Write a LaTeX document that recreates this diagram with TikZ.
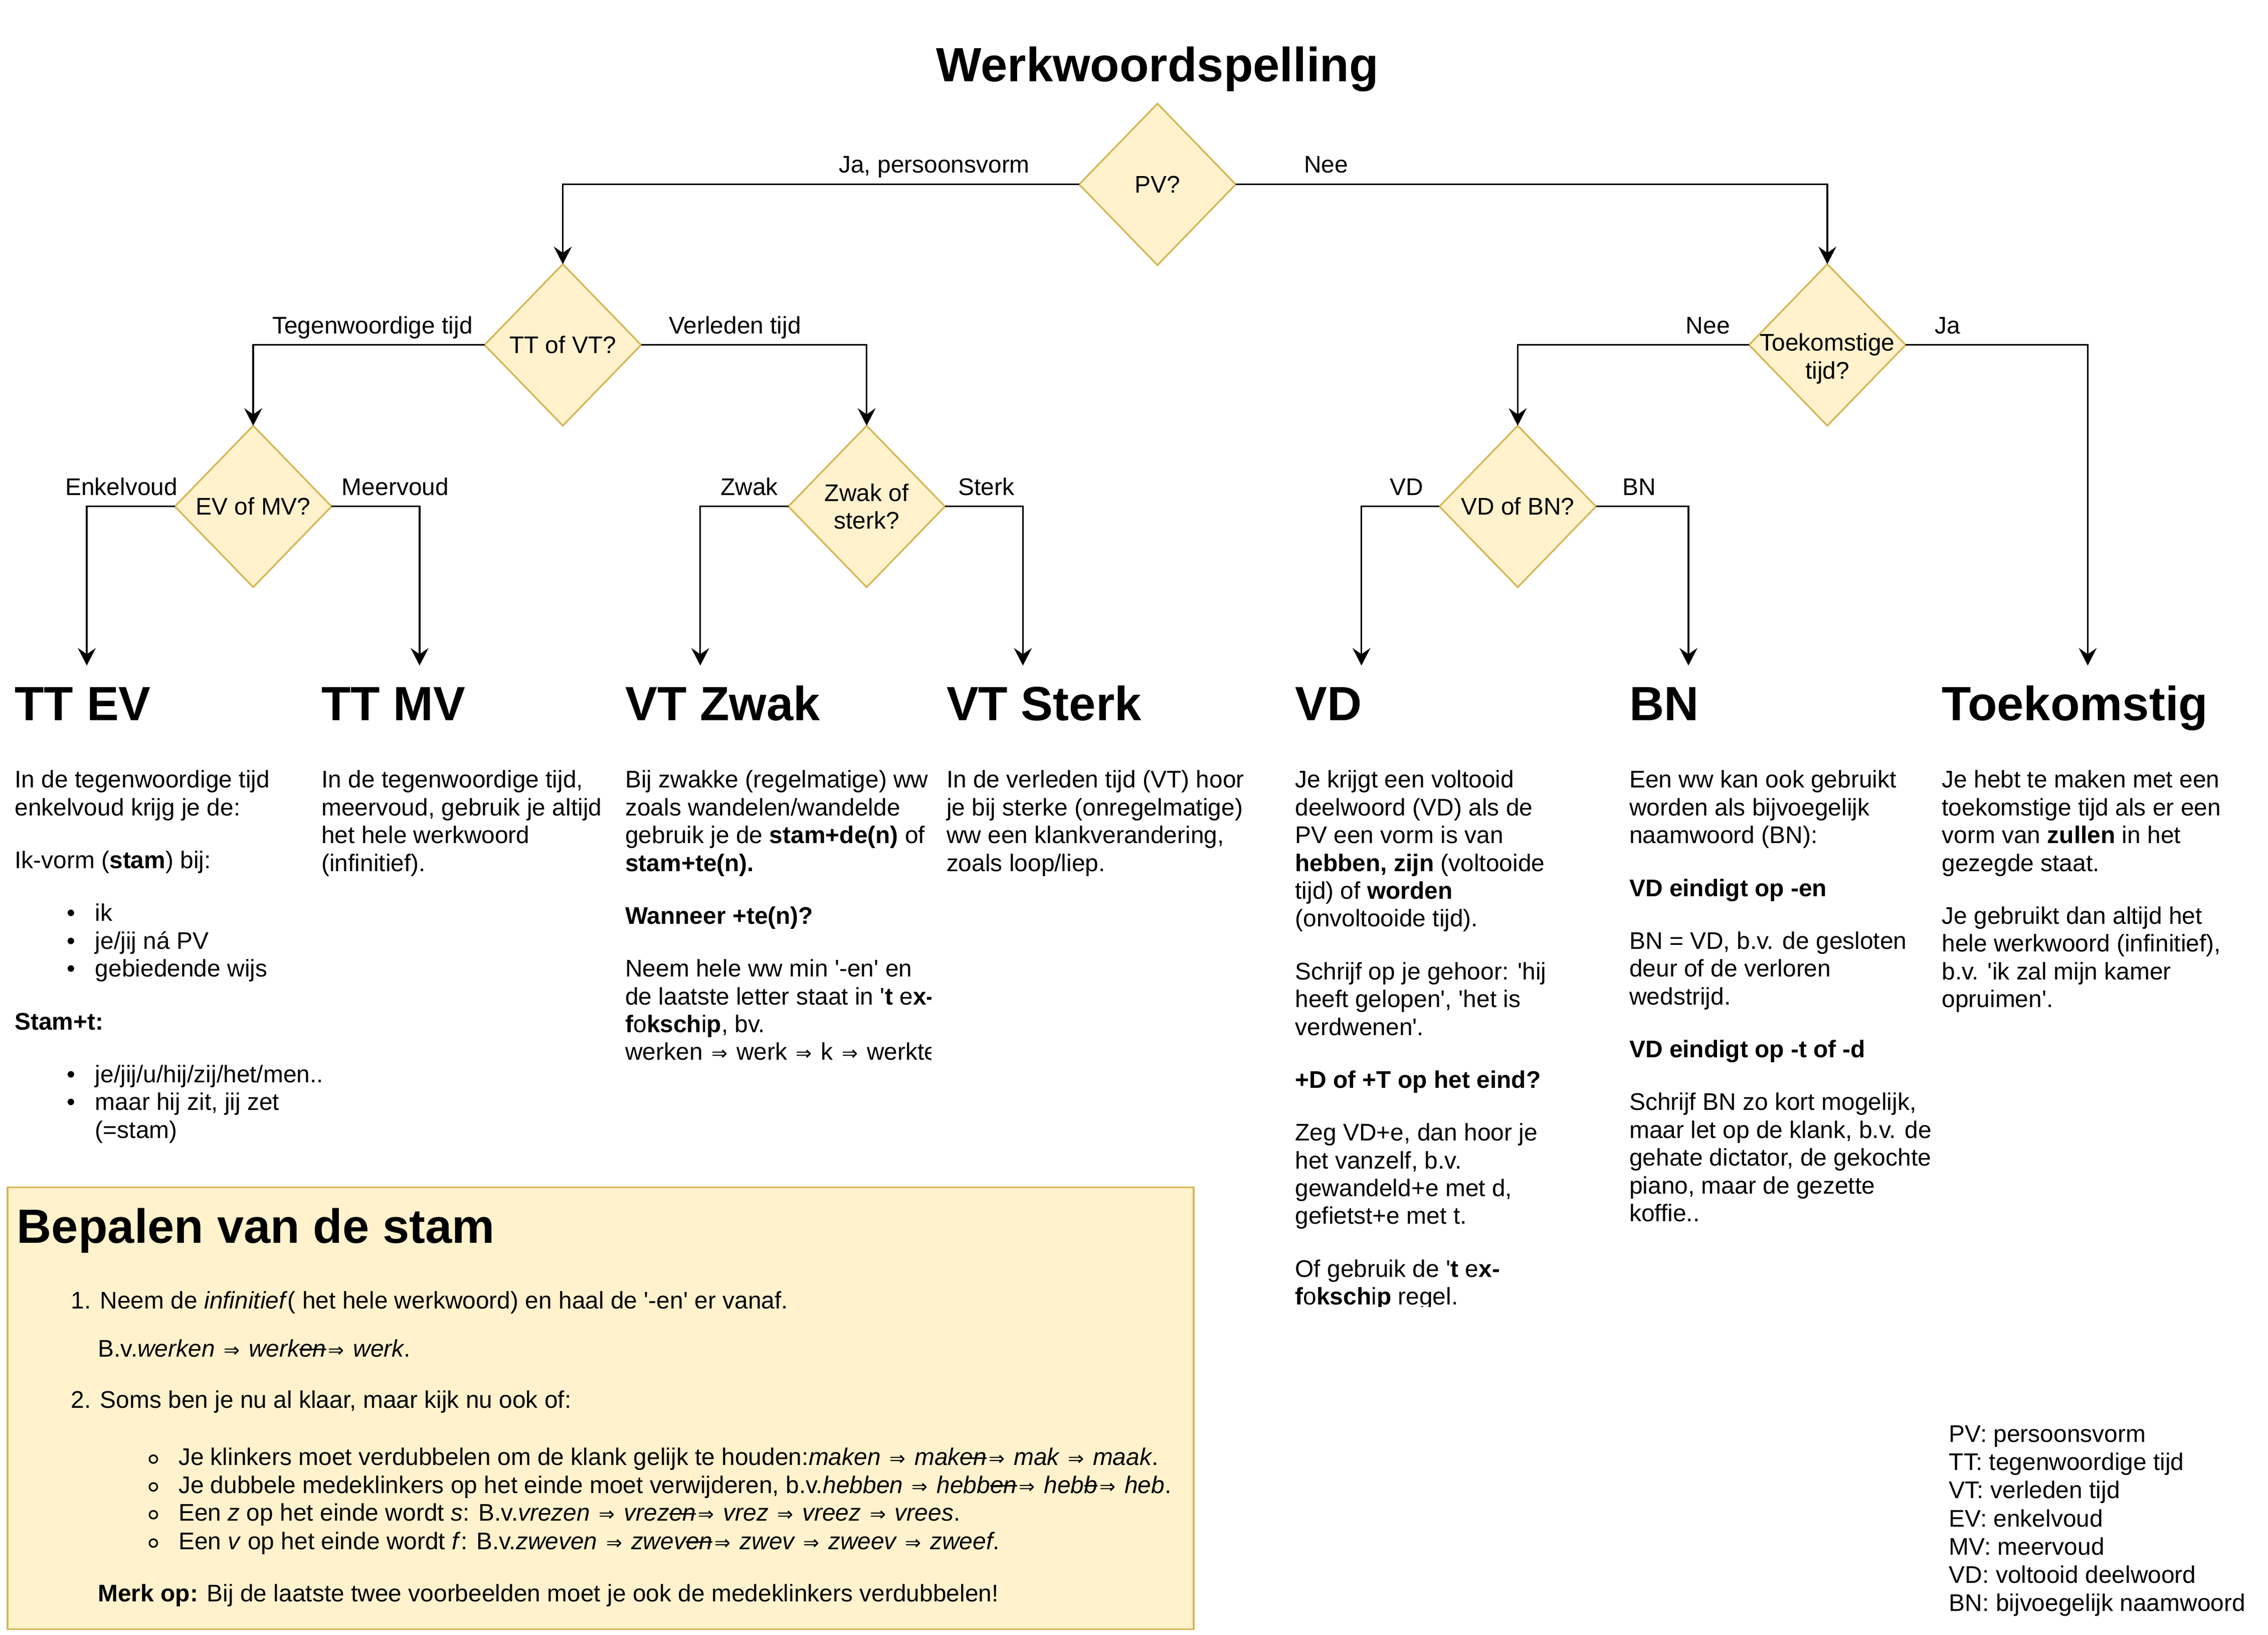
\documentclass[tikz,border=0pt]{standalone}
\usepackage{fontspec}
\setmainfont{Liberation Sans}
\newfontfamily\arrfont{DejaVu Sans}[Scale=0.8]
\usetikzlibrary{shapes.geometric,arrows.meta,calc}
\definecolor{decfill}{HTML}{FFF2CC}
\definecolor{decline}{HTML}{D6B656}
\newcommand{\imp}{\hspace{1.5pt}{\arrfont ⇒}\hspace{1.5pt}}
\newcommand{\sq}{\textquotesingle}
\newsavebox\strkbox
\newcommand{\strk}[1]{\sbox\strkbox{#1}\rlap{\usebox\strkbox}\rule[0.27em]{\wd\strkbox}{0.065em}}
\newcommand{\bul}[1]{\hspace*{36pt}\makebox[19.6pt][l]{\textbullet}#1}
\newcommand{\ring}[1]{\hspace*{74.2pt}#1}

\begin{document}
\begin{tikzpicture}[x=1pt, y=-1pt,
  txt/.style={font=\fontsize{16.6}{19.2}\selectfont, inner sep=0pt, align=left, anchor=base west},
  kop/.style={font=\fontsize{33.2}{38}\selectfont\bfseries, inner sep=0pt, anchor=base west},
  dec/.style={diamond, draw=decline, fill=decfill, line width=1.15pt, minimum width=108.2pt, minimum height=111.6pt, inner sep=0pt, outer sep=0pt},
  dlbl/.style={font=\fontsize{16.6}{19.2}\selectfont, inner sep=0pt, align=center},
  elbl/.style={font=\fontsize{16.6}{19.2}\selectfont, inner sep=0pt},
  arr/.style={-{Stealth[length=12.1pt, width=12.4pt, inset=4.3pt]}, line width=1.15pt}]
\useasboundingbox (0,0) rectangle (1567.6,1129.6);

\node[kop, anchor=base] (titel) at (800,56.4) {Werkwoordspelling};

\node[dec, label={[dlbl]center:PV?}] (pv) at (800,127.4) {};
\node[dec, label={[dlbl]center:TT of VT?}] (ttvt) at (389,238.3) {};
\node[dec, label={[dlbl, yshift=-9.5pt]center:Toekomstige\\tijd?}] (toek) at (1263,238.3) {};
\node[dec, label={[dlbl]center:EV of MV?}] (evmv) at (175,349.9) {};
\node[dec, label={[dlbl]center:Zwak of\\sterk?}] (zwst) at (599,349.9) {};
\node[dec, label={[dlbl]center:VD of BN?}] (vdbn) at (1049,349.9) {};

\coordinate (ev) at (60,459.8);
\coordinate (mv) at (290,459.8);
\coordinate (zw) at (484,459.8);
\coordinate (st) at (707,459.8);
\coordinate (vd) at (941,459.8);
\coordinate (bn) at (1167,459.8);
\coordinate (tk) at (1443,459.8);

\draw[arr] (pv.west) -| (ttvt.north);
\draw[arr] (pv.east) -| (toek.north);
\draw[arr] (ttvt.west) -| (evmv.north);
\draw[arr] (ttvt.east) -| (zwst.north);
\draw[arr] (toek.west) -| (vdbn.north);
\draw[arr] (toek.east) -| (tk);
\draw[arr] (evmv.west) -| (ev);
\draw[arr] (evmv.east) -| (mv);
\draw[arr] (zwst.west) -| (zw);
\draw[arr] (zwst.east) -| (st);
\draw[arr] (vdbn.west) -| (vd);
\draw[arr] (vdbn.east) -| (bn);

\node[elbl, anchor=base east] (lja) at ([shift={(-34,-7.9)}]pv.west) {Ja, persoonsvorm};
\node[elbl, anchor=base west] (lnee) at ([shift={(47,-7.9)}]pv.east) {Nee};
\node[elbl, anchor=base east] (ltt) at ([shift={(-8,-7.8)}]ttvt.west) {Tegenwoordige tijd};
\node[elbl, anchor=base west] (lvt) at ([shift={(19,-7.8)}]ttvt.east) {Verleden tijd};
\node[elbl, anchor=base east] (ltnee) at ([shift={(-13,-7.8)}]toek.west) {Nee};
\node[elbl, anchor=base west] (ltja) at ([shift={(20,-7.8)}]toek.east) {Ja};
\node[elbl, anchor=base east] (lev) at ([shift={(2,-7.8)}]evmv.west) {Enkelvoud};
\node[elbl, anchor=base west] (lmv) at ([shift={(7,-7.8)}]evmv.east) {Meervoud};
\node[elbl, anchor=base east] (lzw) at ([shift={(-7,-7.8)}]zwst.west) {Zwak};
\node[elbl, anchor=base west] (lst) at ([shift={(9,-7.8)}]zwst.east) {Sterk};
\node[elbl, anchor=base east] (lvd) at ([shift={(-11,-7.8)}]vdbn.west) {VD};
\node[elbl, anchor=base west] (lbn) at ([shift={(18,-7.8)}]vdbn.east) {BN};

\node[kop] (ttevkop) at (10,497.9) {TT EV};
\node[kop] (ttmvkop) at (222,497.9) {TT MV};
\node[kop] (zwakkop) at (432,497.9) {VT Zwak};
\node[kop] (sterkkop) at (654,497.9) {VT Sterk};
\node[kop] (vdkop) at (895,497.9) {VD};
\node[kop] (bnkop) at (1126,497.9) {BN};
\node[kop] (toekkop) at (1342,497.9) {Toekomstig};

% multi-line nodes: base = last line
\node[txt] (ttevtxt) at (10,786.3) {In de tegenwoordige tijd\\
enkelvoud krijg je de:\\[17.3pt]
Ik-vorm (\textbf{stam}) bij:\\[17.3pt]
\bul{ik}\\
\bul{je/jij ná PV}\\
\bul{gebiedende wijs}\\[17.3pt]
\textbf{Stam+t:}\\[17.3pt]
\bul{je/jij/u/hij/zij/het/men..}\\
\bul{maar hij zit, jij zet}\\
\hspace*{55.6pt}(=stam)};

\node[txt] (ttmvtxt) at (222,601.9) {In de tegenwoordige tijd,\\
meervoud, gebruik je altijd\\
het hele werkwoord\\
(infinitief).};

\begin{scope}
\clip (428,520) rectangle (643.5,760);
\node[txt] (zwaktxt) at (432,732.5) {Bij zwakke (regelmatige) ww\\
zoals wandelen/wandelde\\
gebruik je de \textbf{stam+de(n)} of\\
\textbf{stam+te(n).}\\[17.3pt]
\textbf{Wanneer +te(n)?}\\[17.3pt]
Neem hele ww min \sq-en\sq{} en\\
de laatste letter staat in \sq\textbf{t} e\textbf{x-}\\
\textbf{f}o\textbf{ksch}i\textbf{p}, bv.\\
werken \imp{} werk \imp{} k \imp{} werkte};
\end{scope}

\node[txt] (sterktxt) at (654,601.9) {In de verleden tijd (VT) hoor\\
je bij sterke (onregelmatige)\\
ww een klankverandering,\\
zoals loop/liep.};

\begin{scope}
\clip (890,520) rectangle (1120,902.8);
\node[txt] (vdtxt) at (895,901.5) {Je krijgt een voltooid\\
deelwoord (VD) als de\\
PV een vorm is van\\
\textbf{hebben, zijn} (voltooide\\
tijd) of \textbf{worden}\\
(onvoltooide tijd).\\[17.3pt]
Schrijf op je gehoor: \sq hij\\
heeft gelopen\sq, \sq het is\\
verdwenen\sq.\\[17.3pt]
\textbf{+D of +T op het eind?}\\[17.3pt]
Zeg VD+e, dan hoor je\\
het vanzelf, b.v.\\
gewandeld+e met d,\\
gefietst+e met t.\\[17.3pt]
Of gebruik de \sq\textbf{t} e\textbf{x-}\\
\textbf{f}o\textbf{ksch}i\textbf{p} regel.};
\end{scope}

\node[txt] (bntxt) at (1126,843.9) {Een ww kan ook gebruikt\\
worden als bijvoegelijk\\
naamwoord (BN):\\[17.3pt]
\textbf{VD eindigt op -en}\\[17.3pt]
BN = VD, b.v. de gesloten\\
deur of de verloren\\
wedstrijd.\\[17.3pt]
\textbf{VD eindigt op -t of -d}\\[17.3pt]
Schrijf BN zo kort mogelijk,\\
maar let op de klank, b.v. de\\
gehate dictator, de gekochte\\
piano, maar de gezette\\
koffie..};

\node[txt] (toektxt) at (1342,696) {Je hebt te maken met een\\
toekomstige tijd als er een\\
vorm van \textbf{zullen} in het\\
gezegde staat.\\[17.3pt]
Je gebruikt dan altijd het\\
hele werkwoord (infinitief),\\
b.v. \sq ik zal mijn kamer\\
opruimen\sq.};

%\draw[very thin, color = gray] (0,0) grid[step=100] (1567,1129);
\draw[draw=decline, fill=decfill, line width=1.15pt] (5.2,820.3) rectangle (825,1125.5);
\node[kop] (stamkop) at (11.5,858.7) {Bepalen van de stam};
\node[txt] (stamtxt) at (49,1106.5) {1. Neem de \textit{infinitief}( het hele werkwoord) en haal de \sq-en\sq{} er vanaf.\\[14pt]
\hspace*{18.5pt}B.v.\textit{werken \imp{} werk\strk{en}\imp{} werk}.\\[16.3pt]
2. Soms ben je nu al klaar, maar kijk nu ook of:\\[20.4pt]
\ring{Je klinkers moet verdubbelen om de klank gelijk te houden:\textit{maken \imp{} mak\strk{en}\imp{} mak \imp{} maak}.}\\
\ring{Je dubbele medeklinkers op het einde moet verwijderen, b.v.\textit{hebben \imp{} hebb\strk{en}\imp{} heb\strk{b}\imp{} heb}.}\\
\ring{Een \textit{z} op het einde wordt \textit{s}: B.v.\textit{vrezen \imp{} vrez\strk{en}\imp{} vrez \imp{} vreez \imp{} vrees}.}\\[0.4pt]
\ring{Een \textit{v} op het einde wordt \textit{f}: B.v.\textit{zweven \imp{} zwev\strk{en}\imp{} zwev \imp{} zweev \imp{} zweef}.}\\[16.9pt]
\hspace*{18.5pt}\textbf{Merk op:} Bij de laatste twee voorbeelden moet je ook de medeklinkers verdubbelen!};
\draw[line width=1.1pt] (106,1008.1) circle[radius=2.7pt];
\draw[line width=1.1pt] (106,1027.3) circle[radius=2.7pt];
\draw[line width=1.1pt] (106,1046.5) circle[radius=2.7pt];
\draw[line width=1.1pt] (106,1066.1) circle[radius=2.7pt];

\node[txt, font=\fontsize{16.6}{19.5}\selectfont] (legenda) at (1347,1113.3) {PV: persoonsvorm\\
TT: tegenwoordige tijd\\
VT: verleden tijd\\
EV: enkelvoud\\
MV: meervoud\\
VD: voltooid deelwoord\\
BN: bijvoegelijk naamwoord};
\end{tikzpicture}
\end{document}
